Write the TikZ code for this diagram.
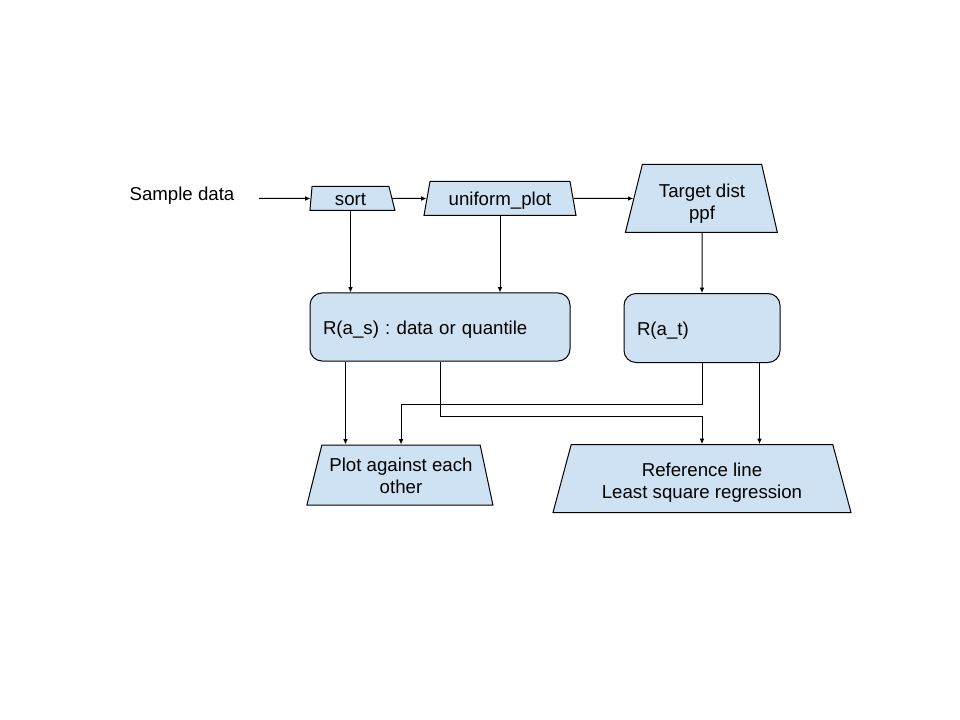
\documentclass[tikz,border=0pt]{standalone}
\usepackage{fontspec}
\setmainfont{Liberation Sans}
\usetikzlibrary{positioning,arrows.meta,shapes.geometric}
\definecolor{boxblue}{HTML}{CFE2F3}

\begin{document}
\begin{tikzpicture}[x=0.75pt,y=-0.75pt,
			>={Latex[length=4pt,width=3.5pt]},
			line width=0.75pt,
			every node/.style={
				font=\fontsize{14}{16.5}\selectfont\frenchspacing,
				align=center
			},
			oneline/.style={text height=14.5pt,text depth=3.5pt},
			twoline/.style={text height=33.5pt,text depth=3.5pt},
			trap/.style={
				draw,
				fill=boxblue,
				trapezium,
				trapezium stretches body,
				inner xsep=0pt
			},
			rbox/.style={
				draw,
				fill=boxblue,
				rounded corners=9pt,
				align=left,
				oneline,
				inner xsep=9.75pt
			}]
			
			\useasboundingbox (0,0) rectangle (960,720);
			
			\node(sample)[oneline] at (182,193.5){Sample data};
			
			\coordinate(sampleout) at (259,198.5);
			
			\node(sort)[trap,oneline,inner ysep=0pt,minimum width=63.75pt,minimum height=18pt,
				trapezium left angle=85,trapezium right angle=76] at (350.5,198.5){sort};
			
			\node(uniform)[trap,oneline,inner ysep=3.75pt,minimum width=114pt,minimum height=25.5pt,
				trapezium left angle=80,trapezium right angle=80] at (500,198.5){uniform\_plot};
			
			\node(target)[trap,twoline,text height=35pt,inner ysep=6.25pt,minimum width=114pt,minimum height=51pt,
				trapezium left angle=76,trapezium right angle=77] at (702,198.5){Target dist\\ppf};
			
			\node(ras)[rbox,text width=175.5pt,minimum height=51pt] at (440,327){R(a\_s) : data or quantile};
			
			\node(rat)[rbox,text width=97.5pt,minimum height=51.75pt,below=45pt of target]{R(a\_t)};
			
			\node(plot)[trap,twoline,text height=31pt,inner ysep=5.25pt,minimum width=139.5pt,minimum height=45pt,
				trapezium left angle=76,trapezium right angle=78] at (401,475){Plot against each\\other};
			
			\node(ref)[trap,twoline,inner ysep=7pt,minimum width=223.5pt,minimum height=51pt,
				trapezium left angle=75,trapezium right angle=75,below=60.75pt of rat]{Reference line\\Least square regression};
			
			\draw[->](sampleout)--(sort);
			
			\draw[->](sort)--(uniform);
			
			\draw[->](uniform)--(target);
			
			\draw[->](target)--(rat);
			
			\draw[->](sort.south)--(sort.south|-ras.north);
			
			\draw[->](uniform.south)--(uniform.south|-ras.north);
			
			\draw[->]([xshift=27pt]ras.south west)--([xshift=27pt]ras.south west|-plot.north);
			
			\draw[->](ras.south)--++(0,55)-|(ref.north);
			
			\draw[->](rat.south)--++(0,41)-|(plot.north);
			
			\draw[->]([xshift=-15.75pt]rat.south east)--([xshift=-15.75pt]rat.south east|-ref.north);
			
		\end{tikzpicture}
\end{document}
